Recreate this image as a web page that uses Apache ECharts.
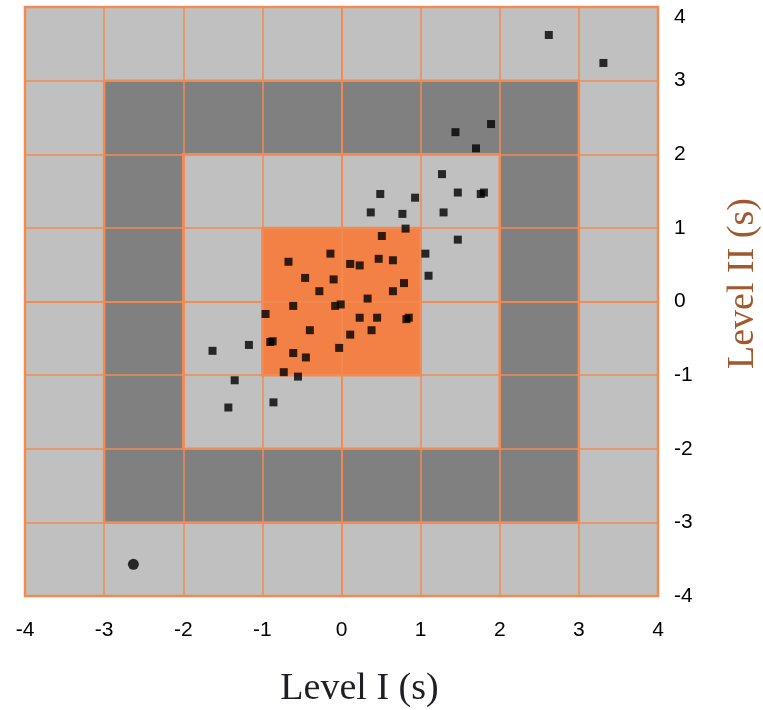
<!DOCTYPE html>
<html>
<head>
<meta charset="utf-8">
<script src="https://cdn.jsdelivr.net/npm/echarts@6/dist/echarts.min.js"></script>
<style>
  html, body { margin: 0; padding: 0; background: #fff; }
  #chart { width: 763px; height: 710px; }
</style>
</head>
<body>
<div id="chart"></div>
<script>
const axisTicks = [-4, -3, -2, -1, 0, 1, 2, 3, 4]
const ringHalfWidths = [4, 3, 2, 1]

const levelI = [-1.63, -1.17, -0.90, -0.87, -1.35, -1.43, -0.86, -0.14, -0.67, -0.46,
  -0.10, -0.28, -0.61, -0.08, -0.01, -0.96, 0.81, 0.51, 1.06, 0.11,
  0.23, 0.47, 0.65, 1.10, 0.79, 0.65, 0.33, -0.40, -0.03, -0.61,
  -0.45, -0.73, -0.55, 0.23, 0.45, 0.82, 0.85, 0.38, 0.11, 1.89,
  1.44, 1.70, 1.27, 0.49, 0.93, 1.47, 1.76, 1.80, 0.37, 0.77,
  1.29, 1.47, 2.62, 3.31]
const levelII = [-0.67, -0.59, -0.55, -0.54, -1.07, -1.44, -1.37, 0.65, 0.54, 0.32,
  0.30, 0.14, -0.06, -0.06, -0.04, -0.17, 0.99, 0.89, 0.65, 0.51,
  0.49, 0.58, 0.56, 0.35, 0.25, 0.14, 0.04, -0.39, -0.63, -0.70,
  -0.76, -0.96, -1.02, -0.22, -0.22, -0.24, -0.22, -0.39, -0.45, 2.41,
  2.30, 2.08, 1.73, 1.46, 1.41, 1.48, 1.46, 1.48, 1.21, 1.19,
  1.21, 0.84, 3.62, 3.24]

const outlierLevelI = [-2.63]
const outlierLevelII = [-3.57]

const ringFills = ['#c0c0c0', '#808080', '#c0c0c0', '#f38044']
const lineOrange = '#f28a52'
const tickFont = "'Liberation Sans Narrow', 'Liberation Sans', Arial, sans-serif"
const titleFont = "'Liberation Serif', 'DejaVu Serif', serif"

const chart = echarts.init(document.getElementById('chart'))

const axisBase = {
  type: 'value',
  min: axisTicks[0],
  max: axisTicks[axisTicks.length - 1],
  interval: 1,
  z: 2,
  axisLine: { show: true, lineStyle: { color: lineOrange, width: 1.5 } },
  axisTick: { show: false },
  splitLine: { show: true, lineStyle: { color: lineOrange, width: 1.5 } },
  axisLabel: { color: '#000', fontSize: 21, fontFamily: tickFont }
}

const option = {
  backgroundColor: '#fff',
  animation: false,
  grid: { left: 25, right: 105, top: 7, bottom: 114, containLabel: false, outerBoundsMode: 'none' },
  xAxis: Object.assign({}, axisBase, {
    axisLabel: Object.assign({}, axisBase.axisLabel, { margin: 24 }),
    name: 'Level I (s)',
    nameLocation: 'middle',
    nameGap: 74,
    nameTextStyle: {
      color: '#1e1e24', fontSize: 38, fontFamily: titleFont,
      padding: [0, 0, 0, 36]
    }
  }),
  yAxis: Object.assign({}, axisBase, {
    position: 'right',
    axisLabel: Object.assign({}, axisBase.axisLabel, { margin: 16, verticalAlignMaxLabel: 'top' }),
    name: 'Level II (s)',
    nameLocation: 'middle',
    nameRotate: 90,
    nameGap: 66,
    nameTextStyle: {
      color: '#a0582e', fontSize: 38, fontFamily: titleFont,
      padding: [0, 0, 0, 36]
    }
  }),
  series: [
    {
      type: 'custom',
      z: 1,
      silent: true,
      data: ringHalfWidths,
      renderItem: (params, api) => {
        const h = api.value(0)
        const p1 = api.coord([-h, h])
        const p2 = api.coord([h, -h])
        return {
          type: 'rect',
          shape: { x: p1[0], y: p1[1], width: p2[0] - p1[0], height: p2[1] - p1[1] },
          style: { fill: ringFills[params.dataIndex], stroke: lineOrange, lineWidth: 2.5 }
        }
      },
      encode: { x: 0 }
    },
    {
      type: 'scatter',
      z: 3,
      symbol: 'rect',
      symbolSize: 8,
      itemStyle: { color: '#000' },
      data: levelI.map((v, i) => [v, levelII[i]])
    },
    {
      type: 'scatter',
      z: 3,
      symbol: 'circle',
      symbolSize: 11,
      itemStyle: { color: '#000' },
      data: outlierLevelI.map((v, i) => [v, outlierLevelII[i]])
    }
  ]
}

chart.setOption(option)
</script>
</body>
</html>
